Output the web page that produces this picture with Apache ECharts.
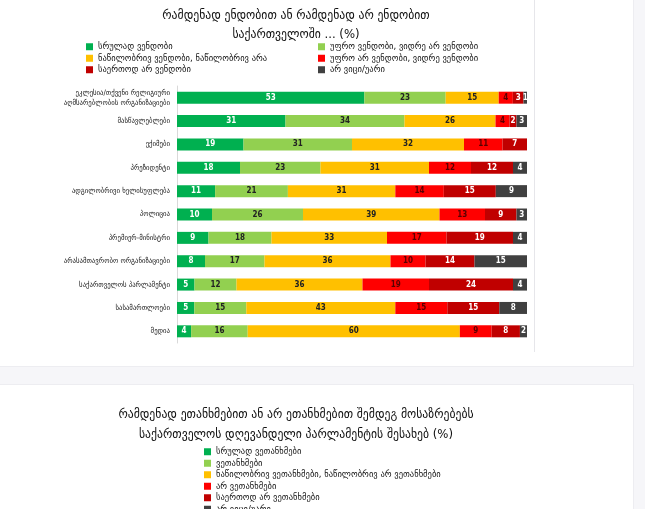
<!DOCTYPE html>
<html><head><meta charset="utf-8">
<script src="https://cdn.jsdelivr.net/npm/echarts@6/dist/echarts.min.js"></script>
<style>
html,body{margin:0;padding:0;background:#f6f6f9;width:645px;height:509px;overflow:hidden;}
.card{position:absolute;background:#fff;border:1px solid #ededf1;}
#chart{position:absolute;left:0;top:0;width:645px;height:580px;}
</style></head>
<body>
<div class="card" style="left:-2px;top:-10px;width:634px;height:375px;"></div>
<div class="card" style="left:-2px;top:384px;width:634px;height:140px;"></div>
<div id="chart"></div>
<script>
// ---- Chart 1 data ----
const categories = [
  "ეკლესია/თქვენი რელიგიური\nაღმსარებლობის ორგანიზაციები",
  "მასწავლებლები",
  "ექიმები",
  "პრეზიდენტი",
  "ადგილობრივი ხელისუფლება",
  "პოლიცია",
  "პრემიერ-მინისტრი",
  "არასამთავრობო ორგანიზაციები",
  "საქართველოს პარლამენტი",
  "სასამართლოები",
  "მედია"
];
const seriesNames1 = [
  "სრულად ვენდობი",
  "უფრო ვენდობი, ვიდრე არ ვენდობი",
  "ნაწილობრივ ვენდობი, ნაწილობრივ არა",
  "უფრო არ ვენდობი, ვიდრე ვენდობი",
  "საერთოდ არ ვენდობი",
  "არ ვიცი/უარი"
];
const trustFully   = [53, 31, 19, 18, 11, 10,  9,  8,  5,  5,  4];
const trustMore    = [23, 34, 31, 23, 21, 26, 18, 17, 12, 15, 16];
const trustPartly  = [15, 26, 32, 31, 31, 39, 33, 36, 36, 43, 60];
const distrustMore = [ 4,  4, 11, 12, 14, 13, 17, 10, 19, 15,  9];
const distrustAll  = [ 3,  2,  7, 12, 15,  9, 19, 14, 24, 15,  8];
const dontKnow     = [ 1,  3,  0,  4,  9,  3,  4, 15,  4,  8,  2];

// ---- Chart 2 (only title + legend visible) ----
const seriesNames2 = [
  "სრულად ვეთანხმები",
  "ვეთანხმები",
  "ნაწილობრივ ვეთანხმები, ნაწილობრივ არ ვეთანხმები",
  "არ ვეთანხმები",
  "საერთოდ არ ვეთანხმები",
  "არ ვიცი/უარი "
];
const chart2Values = [[], [], [], [], [], []];

const title1 = "რამდენად ენდობით ან რამდენად არ ენდობით\nსაქართველოში ... (%)";
const title2 = "რამდენად ეთანხმებით ან არ ეთანხმებით შემდეგ მოსაზრებებს\nსაქართველოს დღევანდელი პარლამენტის შესახებ (%)";

const colors = ["#00b050", "#92d050", "#ffc000", "#ff0000", "#c00000", "#404040"];
const labelColors = ["#ffffff", "#222222", "#222222", "#5a0000", "#ffffff", "#ffffff"];
const FONT = "'DejaVu Sans Condensed','DejaVu Sans',sans-serif";

const raw1 = [trustFully, trustMore, trustPartly, distrustMore, distrustAll, dontKnow];
const totals = categories.map((c, i) => raw1.reduce((s, a) => s + a[i], 0));

const series = [];
raw1.forEach((arr, k) => {
  series.push({
    name: seriesNames1[k],
    type: 'bar',
    stack: 's1',
    xAxisIndex: 0, yAxisIndex: 0,
    barWidth: 12,
    itemStyle: { color: colors[k] },
    label: {
      show: true,
      position: 'inside',
      fontSize: 8,
      fontWeight: 'bold',
      fontFamily: FONT,
      color: labelColors[k],
      formatter: p => arr[p.dataIndex] ? String(arr[p.dataIndex]) : ''
    },
    emphasis: { disabled: true },
    data: arr.map((v, i) => v / totals[i] * 100)
  });
});
chart2Values.forEach((arr, k) => {
  series.push({
    name: seriesNames2[k],
    type: 'bar',
    stack: 's2',
    xAxisIndex: 1, yAxisIndex: 1,
    itemStyle: { color: colors[k] },
    data: arr
  });
});

const legendText = { fontSize: 9.5, fontFamily: FONT, color: '#111', lineHeight: 11.5 };
const legendBase = { orient: 'vertical', itemWidth: 7, itemHeight: 7, itemGap: 0, icon: 'rect',
  textStyle: legendText, selectedMode: false, padding: 0 };
const chart = echarts.init(document.getElementById('chart'), null, { renderer: 'canvas' });
chart.setOption({
  animation: false,
  backgroundColor: 'transparent',
  title: [
    { text: title1, left: 296, top: 6, textAlign: 'center', padding: 0,
      textStyle: { fontSize: 13, fontWeight: 'normal', color: '#111', fontFamily: FONT, lineHeight: 19 } },
    { text: title2, left: 296, top: 405, textAlign: 'center', padding: 0,
      textStyle: { fontSize: 13, fontWeight: 'normal', color: '#111', fontFamily: FONT, lineHeight: 20 } }
  ],
  legend: [
    Object.assign({ data: [seriesNames1[0], seriesNames1[2], seriesNames1[4]], left: 86, top: 41 }, legendBase),
    Object.assign({ data: [seriesNames1[1], seriesNames1[3], seriesNames1[5]], left: 318, top: 41 }, legendBase),
    Object.assign({ data: seriesNames2, left: 204, top: 446 }, legendBase)
  ],
  grid: [
    { left: 177, width: 350, top: 86, height: 257 },
    { left: 177, width: 350, top: 700, height: 100 }
  ],
  xAxis: [
    { type: 'value', min: 0, max: 100, show: false, gridIndex: 0 },
    { type: 'value', min: 0, max: 100, show: false, gridIndex: 1 }
  ],
  yAxis: [
    { type: 'category', data: categories, inverse: true, gridIndex: 0,
      axisLine: { show: true, lineStyle: { color: '#d9d9d9', width: 1 } },
      axisTick: { show: false },
      axisLabel: { fontSize: 7.5, fontFamily: FONT, color: '#111', margin: 7, lineHeight: 10 } },
    { type: 'category', data: [], show: false, gridIndex: 1 }
  ],
  graphic: [
    { type: 'line', shape: { x1: 534.5, y1: 0, x2: 534.5, y2: 352 }, style: { stroke: '#e6e6ea', lineWidth: 1 } }
  ],
  series: series
});
</script>
</body></html>
